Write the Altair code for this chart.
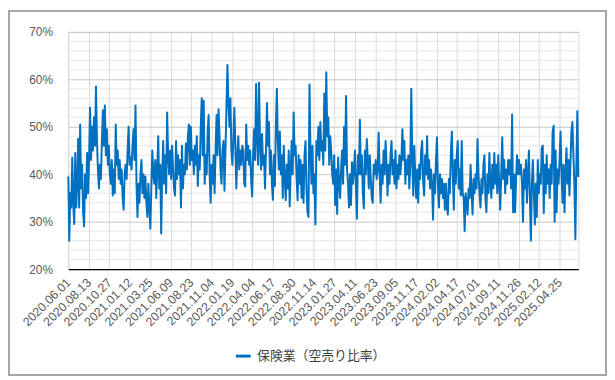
import altair as alt
import pandas as pd

# tick labels (every 50 trading days)
date_labels = ["2020.06.01", "2020.08.13", "2020.10.27", "2021.01.12", "2021.03.25",
               "2021.06.09", "2021.08.23", "2021.11.04", "2022.01.19", "2022.04.04",
               "2022.06.17", "2022.08.30", "2022.11.14", "2023.01.27", "2023.04.11",
               "2023.06.23", "2023.09.05", "2023.11.17", "2024.02.02", "2024.04.17",
               "2024.07.01", "2024.09.11", "2024.11.26", "2025.02.12", "2025.04.25"]
tick_positions = [0, 50, 100, 150, 200, 250, 300, 350, 400, 450, 500, 550, 600,
                  650, 700, 750, 800, 850, 900, 950, 1000, 1050, 1100, 1150, 1200]
last_index = 1246

series_name = "保険業（空売り比率）"

values = [
    39.5, 26, 36, 33, 43.5, 34, 29.5, 44.5, 33, 38, 47.5, 33, 50.5, 37, 42, 32, 29, 40, 35, 44.5,
    36, 43, 54, 43, 50, 45, 52, 46, 58.5, 47, 41, 37, 42, 39, 47, 53.5, 46, 54.5, 44, 49.5,
    42, 46, 40, 38, 43, 35.5, 41, 36, 50.5, 42, 45, 39, 43, 38, 41, 35, 32.5, 40, 42, 39,
    45, 50, 42, 43.5, 41, 46, 49.5, 43, 54.5, 38, 31, 38, 34, 40, 43, 36, 40, 35, 39.5, 34,
    31, 38, 33, 28.5, 37, 45, 40,
    38, 43, 35, 41, 48, 37, 42, 27.5, 40, 47, 38, 44, 36, 53, 44, 40, 45, 39, 46, 41,
    37, 35.5, 47, 39, 44, 40, 43, 33, 46, 37, 42, 40, 46.5, 41, 48, 50.5, 42, 50, 43, 45,
    40, 46, 42, 48, 37.5, 44, 41, 50, 56, 44, 55.5, 38, 44, 40, 49, 52.5, 40, 34, 42, 38,
    44, 36, 45, 52.5, 44, 53.7, 48, 41, 38, 45, 47, 36.5, 45, 54, 63, 55, 50, 56, 45, 42,
    47, 54, 46, 37, 44, 48, 41, 45, 42, 46,
    45, 38, 37.4, 50.5, 43, 46, 42, 45, 39, 35.3, 44, 49.5, 43, 59, 48, 42, 59.3, 46, 41, 48.5,
    42, 44, 37, 45, 55, 46, 51, 40, 45, 38, 34.6, 44, 37.5, 50, 58, 47, 41, 49, 40, 44,
    35, 46, 39, 34.5, 42, 37, 45, 33.2, 41, 47, 40, 53, 44, 46, 39, 34.5, 44, 38, 43, 35,
    42, 34, 44, 47, 37, 32, 31, 58.9, 45, 38, 46, 36, 40, 29.4, 47, 44, 50, 43, 51, 45,
    47, 42, 57, 45, 61.5, 48, 52, 42, 48, 45,
    40, 38, 44, 33.5, 41, 31.6, 43.5, 38, 35, 41, 45, 38, 50, 42, 56.5, 41, 38, 33, 40, 33.5,
    42.5, 38, 41, 45, 37, 30.6, 44, 40, 51.5, 40, 44, 36, 32.8, 45, 40, 47.4, 43, 37, 44, 39,
    35, 34, 42, 40, 43, 39, 41, 48.8, 40, 34, 42, 38, 45, 40, 47, 42, 35.5, 42, 38, 44,
    47, 40, 43, 38, 45, 37, 42, 39, 44, 40, 43, 49.5, 43, 47, 38, 43, 40, 44, 37, 42,
    58, 43, 35.5, 46, 40, 35, 41, 34, 42, 39,
    45, 47, 38.5, 35.5, 44, 40, 48, 39, 43, 37, 41, 38, 30.4, 40, 36, 43, 47.8, 37, 33, 40,
    36, 39, 35, 38, 32.5, 38, 33, 31.5, 39, 36, 44, 49, 40, 32.5, 43, 38, 44, 47, 37, 41,
    35.5, 47, 36, 35, 28, 36, 34, 31.5, 37, 35, 42, 36, 31.5, 39, 36, 40, 37, 47.4, 40, 36,
    33, 39, 36, 42, 44, 35, 32, 40, 36, 44.5, 38, 35, 42, 37, 44.5, 38, 42, 36, 44, 38,
    32.5, 40, 47.8, 39, 43, 36, 41, 38, 43, 40,
    43, 37, 52.6, 32, 40, 32, 39, 44, 40, 43, 40, 42, 38, 30, 41, 37, 43, 34, 40, 45,
    35, 26, 38, 43, 36, 29.4, 38, 31, 43, 36, 40, 38, 45.5, 46, 31.8, 42, 36, 44, 38, 41,
    35, 42, 38, 49, 50.2, 30, 45, 32, 41, 38, 43, 49, 40, 34, 42, 32, 40, 45.5, 38, 43,
    35.5, 42, 49, 51, 44, 38, 26.3, 42, 53.3, 39.4,
]

# y axis levels
major_levels = [0.2, 0.3, 0.4, 0.5, 0.6, 0.7]
minor_levels = [0.22, 0.24, 0.26, 0.28, 0.32, 0.34, 0.36, 0.38, 0.42, 0.44, 0.46, 0.48,
                0.52, 0.54, 0.56, 0.58, 0.62, 0.64, 0.66, 0.68]

n = len(values)
df = pd.DataFrame({
    "idx": [k * last_index / (n - 1) for k in range(n)],
    "ratio": [v / 100 for v in values],
    "series": [series_name] * n,
})
grid_df = pd.DataFrame({"level": minor_levels})

label_js = "[" + ",".join("'" + s + "'" for s in date_labels) + "]"

x_scale = alt.Scale(domain=[0, last_index], nice=False, zero=False)
y_scale = alt.Scale(domain=[0.2, 0.7], nice=False, zero=False)

x_axis = alt.Axis(values=tick_positions, labelExpr=label_js + "[round(datum.value/50)]",
                  labelAngle=-45, labelAlign="right", labelBaseline="middle",
                  labelPadding=11, labelFontSize=12.5, labelFont="Liberation Sans",
                  labelColor="#595959", ticks=False, grid=True, gridColor="#d9d9d9",
                  domain=True, domainColor="#000000", domainWidth=1.2, title=None,
                  labelOverlap=False)
y_axis = alt.Axis(values=major_levels, format=".0%", labelFontSize=12,
                  labelFont="Liberation Sans", labelColor="#595959", ticks=False,
                  labelPadding=16, grid=True, gridColor="#c6c6c6", domain=False, title=None)

minor = alt.Chart(grid_df).mark_rule(color="#e6e6e6", strokeWidth=1).encode(
    y=alt.Y("level:Q", scale=y_scale, axis=y_axis)
)

line = alt.Chart(df).mark_line(strokeWidth=2, strokeJoin="round").encode(
    x=alt.X("idx:Q", scale=x_scale, axis=x_axis),
    y=alt.Y("ratio:Q", scale=y_scale, axis=y_axis),
    color=alt.Color("series:N", scale=alt.Scale(range=["#0070c0"]),
                    legend=alt.Legend(orient="none", legendX=168, legendY=319, title=None,
                                      symbolType="stroke", symbolSize=225,
                                      symbolStrokeWidth=3, labelFontSize=13,
                                      labelFont="Noto Sans CJK JP", labelColor="#404040",
                                      labelOffset=5, padding=0, labelLimit=300)),
)

frame = alt.Chart(grid_df).mark_rect(fill=None, stroke="#a6a6a6", strokeWidth=1.5).encode(
    x=alt.value(-60.5), x2=alt.value(544), y=alt.value(-21.5), y2=alt.value(347)
)

chart = alt.layer(minor, line, frame).properties(
    width=516, height=240,
    autosize=alt.AutoSizeParams(type="none"),
    padding={"left": 61, "top": 22, "right": 29, "bottom": 108},
).configure_view(stroke=None).configure(background="white")

chart.save("out.html", embed_options={"renderer": "svg", "actions": False})
